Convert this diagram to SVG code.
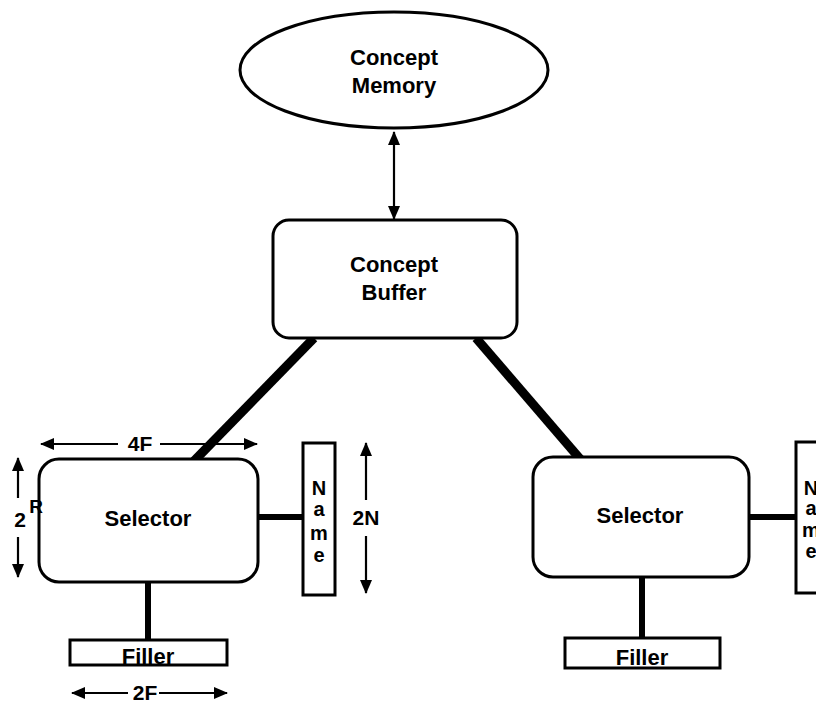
<svg xmlns="http://www.w3.org/2000/svg" width="816" height="707" viewBox="0 0 816 707">
  <style>
    text { font-family: "Liberation Sans", Arial, sans-serif; font-weight: bold; fill: #000; text-anchor: middle; }
    .lbl { font-size: 22px; }
    .nm { font-size: 21px; }
    .ltr { font-size: 20px; }
    .shape { fill: #fff; stroke: #000; stroke-width: 3; }
    .thin { fill: none; stroke: #000; stroke-width: 2.2; }
    .thick { fill: none; stroke: #000; stroke-width: 9; }
    .mid { fill: none; stroke: #000; stroke-width: 6; }
  </style>
  <defs>
    <marker id="ah" viewBox="0 0 14 12" refX="13" refY="6" markerWidth="14" markerHeight="12" markerUnits="userSpaceOnUse" orient="auto-start-reverse">
      <path d="M0,0 L14,6 L0,12 Z" fill="#000"/>
    </marker>
  </defs>

  <g id="connectors">
    <line class="thin" x1="394" y1="132" x2="394" y2="219" marker-start="url(#ah)" marker-end="url(#ah)"/>
    <line class="thick" x1="314" y1="338" x2="194" y2="461"/>
    <line class="thick" x1="476" y1="338" x2="581" y2="460"/>
    <line class="mid" x1="257" y1="517" x2="303" y2="517"/>
    <line class="mid" x1="148" y1="582" x2="148" y2="641"/>
    <line class="mid" x1="749" y1="517" x2="796" y2="517"/>
    <line class="mid" x1="642" y1="577" x2="642" y2="639"/>
  </g>

  <g id="concept-memory">
    <ellipse class="shape" cx="394" cy="70" rx="154" ry="58"/>
    <text class="lbl" x="394" y="65">Concept</text>
    <text class="lbl" x="394" y="93">Memory</text>
  </g>

  <g id="concept-buffer">
    <rect class="shape" x="273" y="220" width="244" height="118" rx="16"/>
    <text class="lbl" x="394" y="272">Concept</text>
    <text class="lbl" x="394" y="300">Buffer</text>
  </g>

  <g id="selector-left">
    <rect class="shape" x="39" y="459" width="219" height="123" rx="20"/>
    <text class="lbl" x="148" y="526">Selector</text>
  </g>

  <g id="name-left">
    <rect class="shape" x="303" y="443" width="32" height="152"/>
    <text class="ltr" x="319" y="495">N</text>
    <text class="ltr" x="319" y="516">a</text>
    <text class="ltr" x="319" y="540">m</text>
    <text class="ltr" x="319" y="562">e</text>
  </g>

  <g id="filler-left">
    <rect class="shape" x="70" y="640" width="157" height="25"/>
    <text class="lbl" x="148" y="664">Filler</text>
  </g>

  <g id="selector-right">
    <rect class="shape" x="533" y="457" width="216" height="120" rx="20"/>
    <text class="lbl" x="640" y="523">Selector</text>
  </g>

  <g id="name-right">
    <rect class="shape" x="796" y="442" width="34" height="151"/>
    <text class="ltr" x="811" y="495">N</text>
    <text class="ltr" x="811" y="515">a</text>
    <text class="ltr" x="811" y="537">m</text>
    <text class="ltr" x="811" y="558">e</text>
  </g>

  <g id="filler-right">
    <rect class="shape" x="565" y="638" width="155" height="30"/>
    <text class="lbl" x="642" y="665">Filler</text>
  </g>

  <g id="dim-4F">
    <line class="thin" x1="118" y1="444" x2="41" y2="444" marker-end="url(#ah)"/>
    <line class="thin" x1="160" y1="444" x2="257" y2="444" marker-end="url(#ah)"/>
    <text class="nm" x="140" y="451">4F</text>
  </g>

  <g id="dim-2R">
    <line class="thin" x1="18" y1="498" x2="18" y2="458" marker-end="url(#ah)"/>
    <line class="thin" x1="18" y1="537" x2="18" y2="577" marker-end="url(#ah)"/>
    <text class="nm" x="20" y="527">2</text>
    <text x="36" y="513" style="font-size:19px">R</text>
  </g>

  <g id="dim-2N">
    <line class="thin" x1="366" y1="500" x2="366" y2="443" marker-end="url(#ah)"/>
    <line class="thin" x1="366" y1="536" x2="366" y2="593" marker-end="url(#ah)"/>
    <text class="nm" x="366" y="525">2N</text>
  </g>

  <g id="dim-2F">
    <line class="thin" x1="128" y1="693" x2="72" y2="693" marker-end="url(#ah)"/>
    <line class="thin" x1="159" y1="693" x2="227" y2="693" marker-end="url(#ah)"/>
    <text class="nm" x="145" y="700">2F</text>
  </g>
</svg>
